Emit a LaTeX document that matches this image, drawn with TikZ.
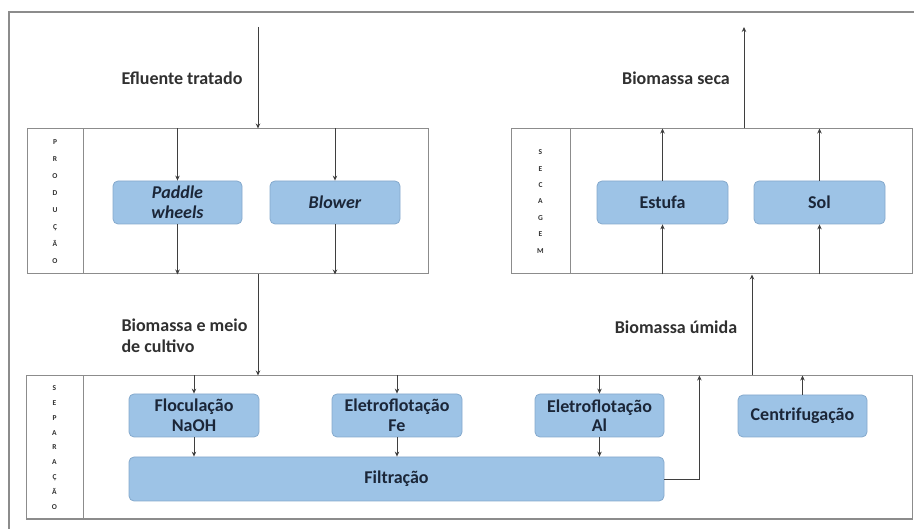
\documentclass[tikz,border=0pt]{standalone}
\usepackage{fontspec}
\setmainfont{Carlito}
\usetikzlibrary{arrows.meta}
\definecolor{framegray}{HTML}{8C8C8C}
\definecolor{linegray}{HTML}{3F3F3F}
\definecolor{boxblue}{HTML}{9DC3E6}
\definecolor{boxedge}{HTML}{85A9CC}
\definecolor{boxtext}{HTML}{1B2638}
\definecolor{labeltext}{HTML}{303030}

\begin{document}
\begin{tikzpicture}[x=1pt,y=-1pt,
  stage/.style={draw=framegray,line width=1pt,inner sep=0pt},
  tag/.style={stage,align=center,font=\fontsize{7.5}{17}\selectfont\bfseries,text=labeltext},
  unit/.style={draw=boxedge,fill=boxblue,rounded corners=5pt,line width=.8pt,
    minimum height=43pt,inner sep=0pt,align=center,text=boxtext,
    font=\fontsize{18}{19.5}\selectfont\bfseries},
  flow/.style={draw=linegray,line width=.8pt,-{Stealth[length=5pt,width=4.5pt]}},
  lbl/.style={text=labeltext,font=\fontsize{18}{21}\selectfont\bfseries}]
\useasboundingbox (0,0) rectangle (914,529);
% moldura
\draw[framegray,line width=1.4pt] (9,529) -- (9,12) -- (914,12);

% etapas
\node[tag,minimum width=56,minimum height=145] (prodtag) at (55,201.5)
  {P\\R\\O\\D\\U\\Ç\\Ã\\O};
\node[stage,minimum width=345,minimum height=145] (prod) at (255.5,201.5) {};
\node[tag,minimum width=59,minimum height=145,font=\fontsize{7.5}{16.4}\selectfont\bfseries] (sectag) at (540.5,201.5)
  {S\\E\\C\\A\\G\\E\\M};
\node[stage,minimum width=342,minimum height=145] (sec) at (741,201.5) {};
\node[tag,minimum width=57,minimum height=143,font=\fontsize{7.5}{14.9}\selectfont\bfseries] (septag) at (54.5,447.5)
  {S\\E\\P\\A\\R\\A\\Ç\\Ã\\O};
\node[stage,minimum width=829,minimum height=143] (sep) at (497.5,447.5) {};

% unidades
\node[unit,minimum width=129] (paddle) at (177.5,202.5) {\itshape Paddle\\\itshape wheels};
\node[unit,minimum width=130] (blower) at (335,202.5) {\itshape Blower};
\node[unit,minimum width=131] (estufa) at (662.5,202.5) {Estufa};
\node[unit,minimum width=131] (sol) at (819.5,202.5) {Sol};
\node[unit,minimum width=130] (floc) at (194,415.5) {Floculação\\NaOH};
\node[unit,minimum width=130] (elfe) at (397,415.5) {Eletroflotação\\Fe};
\node[unit,minimum width=129] (elal) at (599.5,415.5) {Eletroflotação\\Al};
\node[unit,minimum width=129,minimum height=42] (centr) at (802.5,416) {Centrifugação};
\node[unit,minimum width=535,minimum height=44] (filtr) at (396.5,479) {Filtração};

% rotulos
\node[lbl] (efl) at (182,78) {Efluente tratado};
\node[lbl] (seca) at (676,78) {Biomassa seca};
\node[lbl,align=left,anchor=west] (meio) at (118,335.5) {Biomassa e meio\\de cultivo};
\node[lbl] (umida) at (676,327) {Biomassa úmida};

% fluxos
\coordinate (in) at (258,27);
\coordinate (out) at (744,27);
\coordinate (wet) at (752,327);
\draw[flow] (in) -- (in |- prod.north);
\draw[flow] (in |- prod.south) -- (in |- sep.north);
\draw[flow] (wet |- sep.north) -- (wet |- sec.south);
\draw[flow] (out |- sec.north) -- (out);

\foreach \u in {paddle,blower}{
  \draw[flow] (\u.north |- prod.north) -- (\u.north);
  \draw[flow] (\u.south) -- (\u.south |- prod.south);
}
\foreach \u in {estufa,sol}{
  \draw[flow] (\u.south |- sec.south) -- (\u.south);
  \draw[flow] (\u.north) -- (\u.north |- sec.north);
}
\foreach \u in {floc,elfe,elal}{
  \draw[flow] (\u.north |- sep.north) -- (\u.north);
  \draw[flow] (\u.south) -- (\u.south |- filtr.north);
}
\draw[flow] (filtr.east) -| ([xshift=35pt]filtr.east |- sep.north);
\draw[flow] (centr.north) -- (centr.north |- sep.north);

\end{tikzpicture}
\end{document}
